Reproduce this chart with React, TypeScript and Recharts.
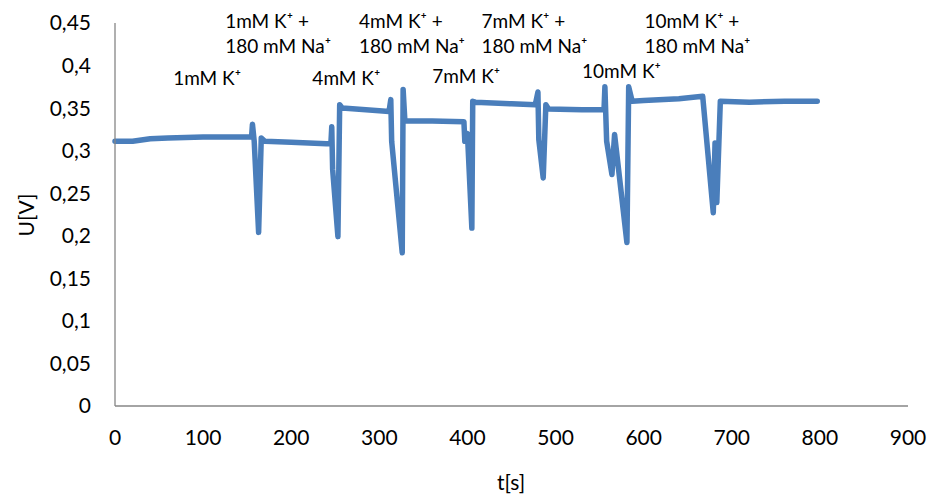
import {
  LineChart,
  Line,
  XAxis,
  YAxis,
  ReferenceDot,
  Label
} from "recharts";

// time [s]
const times = [
  0, 20, 40, 60, 100, 140, 155, 156, 158, 163, 166, 170, 200, 240, 245,
  246, 247, 253, 255, 258, 300, 311, 313, 314, 326, 327, 329, 360, 396,
  397, 400, 405, 406, 409, 450, 477, 480, 481, 486, 489, 492, 530, 555,
  556, 558, 564, 567, 581, 583, 587, 600, 640, 667, 679, 681, 683, 687,
  720, 760, 797
];

// voltage [V]
const voltages = [
  0.311, 0.311, 0.314, 0.315, 0.316, 0.316, 0.316, 0.331, 0.311, 0.204, 0.315, 0.311, 0.310, 0.308, 0.308,
  0.328, 0.278, 0.199, 0.354, 0.350, 0.347, 0.346, 0.360, 0.311, 0.180, 0.372, 0.335, 0.335, 0.334,
  0.311, 0.320, 0.209, 0.358, 0.357, 0.355, 0.354, 0.369, 0.313, 0.268, 0.354, 0.349, 0.348, 0.348,
  0.375, 0.311, 0.272, 0.319, 0.192, 0.375, 0.358, 0.359, 0.361, 0.364, 0.227, 0.309, 0.239, 0.358,
  0.357, 0.358, 0.358
];

const xTicks = [0, 100, 200, 300, 400, 500, 600, 700, 800, 900];
const yTicks = [0, 0.05, 0.1, 0.15, 0.2, 0.25, 0.3, 0.35, 0.4, 0.45];

const noteTexts = [
  ["1mM K\u207A +", "180 mM Na\u207A"],
  ["4mM K\u207A +", "180 mM Na\u207A"],
  ["7mM K\u207A +", "180 mM Na\u207A"],
  ["10mM K\u207A +", "180 mM Na\u207A"],
  ["1mM K\u207A"],
  ["4mM K\u207A"],
  ["7mM K\u207A"],
  ["10mM K\u207A"]
];
// where each note starts (t) and its first line sits (U)
const noteT = [125, 277, 416, 601, 66, 224, 360, 530];
const noteU = [0.454, 0.454, 0.454, 0.454, 0.387, 0.387, 0.389, 0.395];

const data = times.map((t, i) => ({ t, u: voltages[i] }));

const FONT = "Lato, 'Open Sans', sans-serif";

const fmt = (v: number) => String(v).replace(".", ",");

function NoteLabel(props: any) {
  const { viewBox, lines } = props;
  const x = viewBox.x + (viewBox.width || 0) / 2;
  const y = viewBox.y + (viewBox.height || 0) / 2;
  return (
    <text x={x} y={y} fontFamily={FONT} fontSize={19} fill="#000" dominantBaseline="central">
      {lines.map((l: string, i: number) => (
        <tspan key={i} x={x} dy={i === 0 ? 0 : 25}>
          {l}
        </tspan>
      ))}
    </text>
  );
}

export default function App() {
  return (
    <div style={{ position: "absolute", left: 0, top: 0, width: 931, height: 495, background: "#fff" }}>
      <LineChart
        width={931}
        height={495}
        data={data}
        margin={{ top: 23, right: 23, left: 45, bottom: 0 }}
      >
        <XAxis
          dataKey="t"
          type="number"
          domain={[0, 900]}
          ticks={xTicks}
          tickLine={false}
          tickSize={0}
          tickMargin={24}
          stroke="#868686"
          strokeWidth={1.3}
          tick={{ fill: "#000", fontSize: 21, fontFamily: FONT }}
          height={89}
        >
          <Label
            content={() => (
              <text x={511} y={481} textAnchor="middle" dominantBaseline="central" fill="#000" fontSize={21} fontFamily={FONT}>
                t[s]
              </text>
            )}
          />
        </XAxis>
        <YAxis
          type="number"
          domain={[0, 0.45]}
          ticks={yTicks}
          tickFormatter={fmt}
          tickLine={false}
          tickSize={0}
          tickMargin={24}
          stroke="#868686"
          strokeWidth={1.3}
          width={70}
          tick={{ fill: "#000", fontSize: 21, fontFamily: FONT }}
        >
          <Label
            content={() => (
              <text x={25} y={215} transform="rotate(-90 25 215)" textAnchor="middle" dominantBaseline="central" fill="#000" fontSize={21} fontFamily={FONT}>
                U[V]
              </text>
            )}
          />
        </YAxis>
        <Line
          type="linear"
          dataKey="u"
          stroke="#4A7EBB"
          strokeWidth={5.5}
          dot={false}
          isAnimationActive={false}
          strokeLinejoin="round"
          strokeLinecap="round"
        />
        {noteTexts.map((lines, i) => (
          <ReferenceDot
            key={i}
            x={noteT[i]}
            y={noteU[i]}
            r={0}
            fill="none"
            stroke="none"
            ifOverflow="visible"
            label={<NoteLabel lines={lines} />}
          />
        ))}
      </LineChart>
    </div>
  );
}
